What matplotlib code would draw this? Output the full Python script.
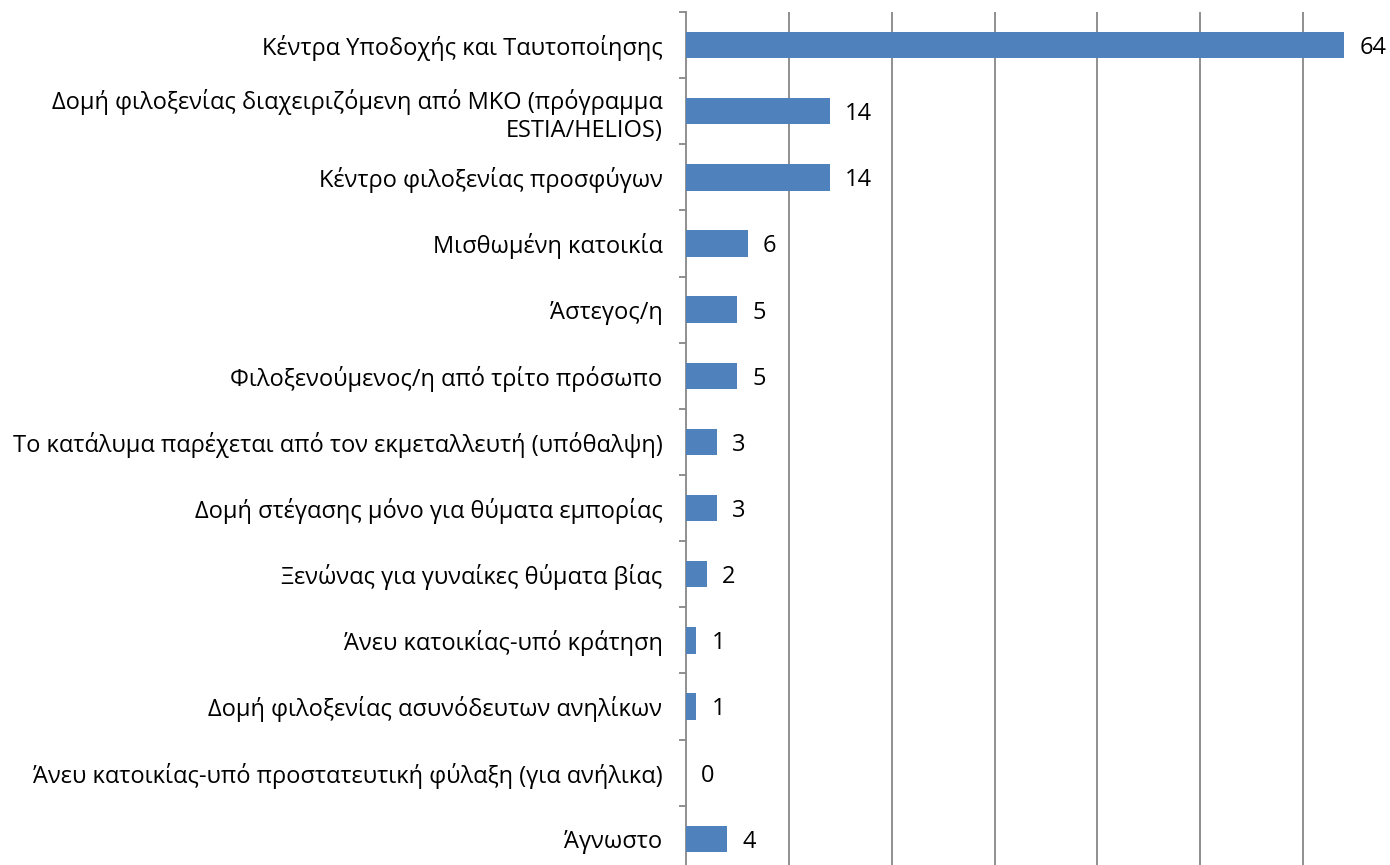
import matplotlib
matplotlib.use("Agg")
import matplotlib.pyplot as plt
import numpy as np

categories = [
    "Κέντρα Υποδοχής και Ταυτοποίησης",
    "Δομή φιλοξενίας διαχειριζόμενη από ΜΚΟ (πρόγραμμα\nESTIA/HELIOS)",
    "Κέντρο φιλοξενίας προσφύγων",
    "Μισθωμένη κατοικία",
    "Άστεγος/η",
    "Φιλοξενούμενος/η από τρίτο πρόσωπο",
    "Το κατάλυμα παρέχεται από τον εκμεταλλευτή (υπόθαλψη)",
    "Δομή στέγασης μόνο για θύματα εμπορίας",
    "Ξενώνας για γυναίκες θύματα βίας",
    "Άνευ κατοικίας-υπό κράτηση",
    "Δομή φιλοξενίας ασυνόδευτων ανηλίκων",
    "Άνευ κατοικίας-υπό προστατευτική φύλαξη (για ανήλικα)",
    "Άγνωστο",
]
values = [64, 14, 14, 6, 5, 5, 3, 3, 2, 1, 1, 0, 4]

plt.rcParams['font.family'] = ['Open Sans', 'DejaVu Sans']

fig = plt.figure(figsize=(13.9, 8.65), dpi=100)
ax = fig.add_axes([686 / 1390, -6.8 / 865, 720 / 1390, 859.8 / 865])

y = np.arange(len(categories))
ax.barh(y, values, height=0.4, color="#4F81BD", zorder=3)

ax.set_xlim(0, 70)
ax.set_ylim(len(categories) - 0.5, -0.5)
ax.set_xticks(np.arange(10, 70, 10))
ax.tick_params(axis="x", length=0, labelbottom=False)
ax.grid(axis="x", color="#878787", linewidth=1.3, zorder=0)

ax.set_yticks(np.arange(-0.5, len(categories), 1.0))
ax.set_yticklabels([])
ax.tick_params(axis="y", which="major", length=5, width=1.3, color="#878787")
ax.set_yticks(y, minor=True)
ax.set_yticklabels(categories, minor=True, fontsize=17)
ax.tick_params(axis="y", which="minor", length=0, pad=17)

for s in ["top", "right", "bottom"]:
    ax.spines[s].set_visible(False)
ax.spines["left"].set_color("#878787")
ax.spines["left"].set_linewidth(1.3)

for yi, v in zip(y, values):
    ax.annotate(str(v), (v, yi), xytext=(11, 0), textcoords="offset points",
                va="center_baseline", ha="left", fontsize=17)

fig.savefig("out.png", dpi=100)
